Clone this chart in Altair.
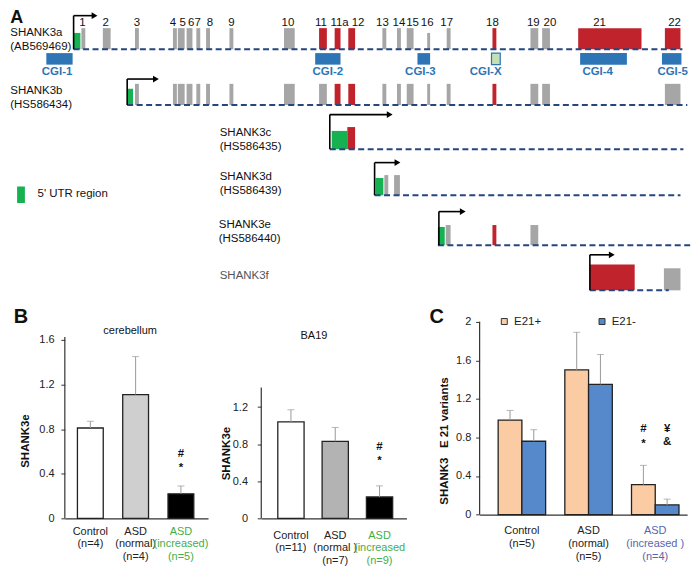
import altair as alt
import pandas as pd

FONT = "Liberation Sans"
GREEN = "#16b150"
GRAY = "#a6a6a6"
RED = "#c0232c"
DASH = "#25467f"
CGI_BLUE = "#2e75b6"
CGI_X_FILL = "#c5e0b4"
LBL_GREEN = "#3fae49"
LBL_BLUE = "#5566b0"
PEACH = "#fbcca4"
BLUE = "#5689cc"

# ---------------- Panel A : transcript structure (schematic units) ----------------
track_labels = ["SHANK3a\n(AB569469)", "SHANK3b\n(HS586434)", "SHANK3c\n(HS586435)",
                "SHANK3d\n(HS586439)", "SHANK3e\n(HS586440)", "SHANK3f"]
track_label_x = [2, 2, 217, 217, 216, 217]
track_label_y = [16, 76, 120, 166, 216, 269]
track_muted = [False, False, False, False, False, True]
track_baseline = [39, 97, 143, 191, 243, 290]
track_start = [67, 122, 330, 376, 441, 597]
track_end = [692, 697, 693, 690, 700, 678]
tss_x = [67, 122, 330, 376, 442, 597]
tss_top = [4, 70, 107, 157, 208, 253]
tss_tip = [92, 155, 395, 403, 470, 623]

exons_a_x0 = [67, 75, 97, 130, 169, 174, 183, 193, 203, 227, 283, 319, 335, 349, 384, 399, 409, 430, 450, 497, 536, 548, 585, 674]
exons_a_x1 = [74, 79, 105, 134, 173, 181, 189, 197, 207, 231, 294, 327, 341, 356, 388, 403, 416, 433, 454, 501, 544, 556, 650, 690]
exons_a_top = [22, 17, 17, 17, 17, 17, 17, 17, 17, 17, 17, 17, 17, 17, 17, 17, 17, 22, 17, 17, 17, 17, 17, 17]
exons_a_kind = ["utr"] + ["coding"] * 10 + ["alt"] * 3 + ["coding"] * 5 + ["alt"] + ["coding"] * 2 + ["alt"] * 2

exons_b_x0 = [122, 130, 169, 174, 183, 193, 203, 227, 283, 319, 335, 349, 384, 399, 409, 430, 450, 497, 536, 548, 674]
exons_b_x1 = [128, 134, 173, 181, 189, 197, 207, 231, 294, 327, 341, 356, 388, 403, 416, 433, 454, 501, 544, 556, 690]
exons_b_top = [80] + [75] * 20
exons_b_kind = ["utr"] + ["coding"] * 9 + ["alt"] * 2 + ["coding"] * 5 + ["alt"] + ["coding"] * 3

exons_c_x0, exons_c_x1, exons_c_top, exons_c_kind = [332, 348], [348, 356], [124, 120], ["utr", "alt"]
exons_d_x0, exons_d_x1, exons_d_top, exons_d_kind = [377, 386, 396], [385, 390, 402], [173, 170, 170], ["utr", "coding", "coding"]
exons_e_x0, exons_e_x1 = [441, 449, 497, 536], [448, 454, 501, 544]
exons_e_top, exons_e_kind = [224, 222, 222, 222], ["utr", "coding", "alt", "coding"]
exons_f_x0, exons_f_x1, exons_f_top, exons_f_kind = [597, 673], [643, 690], [263, 267], ["alt", "coding"]

exon_num = ["1", "2", "3", "4", "5", "67", "8", "9", "10", "11", "11a", "12", "13", "14", "15",
            "16", "17", "18", "19", "20", "21", "22"]
exon_num_x = [76, 100, 132, 169, 179, 191, 207, 229, 287, 321, 340, 359, 384, 401, 415,
              430, 450, 497, 539, 556, 607, 684]

cgi_name = ["CGI-1", "CGI-2", "CGI-3", "CGI-X", "CGI-4", "CGI-5"]
cgi_x0 = [39, 315, 420, 496, 587, 671]
cgi_x1 = [66, 341, 433, 505, 635, 691]
cgi_label_x = [50, 328, 423, 490, 605, 682]

rows = []
for ti, (x0s, x1s, tops, kinds) in enumerate([
        (exons_a_x0, exons_a_x1, exons_a_top, exons_a_kind),
        (exons_b_x0, exons_b_x1, exons_b_top, exons_b_kind),
        (exons_c_x0, exons_c_x1, exons_c_top, exons_c_kind),
        (exons_d_x0, exons_d_x1, exons_d_top, exons_d_kind),
        (exons_e_x0, exons_e_x1, exons_e_top, exons_e_kind),
        (exons_f_x0, exons_f_x1, exons_f_top, exons_f_kind)]):
    for a, b, t, k in zip(x0s, x1s, tops, kinds):
        rows.append({"x0": a, "x1": b, "y0": t, "y1": track_baseline[ti], "kind": k})
exon_df = pd.DataFrame(rows)

tracks_df = pd.DataFrame({"label": track_labels, "lx": track_label_x, "ly": track_label_y,
                          "muted": track_muted, "base": track_baseline, "x0": track_start,
                          "x1": track_end, "tx": tss_x, "top": tss_top, "tip": tss_tip})
num_df = pd.DataFrame({"n": exon_num, "x": exon_num_x})
cgi_df = pd.DataFrame({"name": cgi_name, "x0": cgi_x0, "x1": cgi_x1, "lx": cgi_label_x})

# plot area of panel A starts at schematic x=58 (same left edge as panel B's axis);
# everything left of it is drawn in the left margin
xA = alt.Scale(domain=[58, 700], nice=False, zero=False)
yA = alt.Scale(domain=[0, 300], nice=False, zero=False, reverse=True)


def XA(f):
    return alt.X(f, type="quantitative", scale=xA, axis=None)


def YA(f):
    return alt.Y(f, type="quantitative", scale=yA, axis=None)


exons = alt.Chart(exon_df).mark_rect().encode(
    x=XA("x0"), x2="x1:Q", y=YA("y0"), y2="y1:Q",
    color=alt.Color("kind:N", scale=alt.Scale(domain=["utr", "coding", "alt"], range=[GREEN, GRAY, RED]),
                    legend=None))
baselines = alt.Chart(tracks_df).mark_rule(strokeDash=[6, 3.5], strokeWidth=2, color=DASH).encode(
    x=XA("x0"), x2="x1:Q", y=YA("base"))
tss_v = alt.Chart(tracks_df).mark_rule(color="black", strokeWidth=1.6).encode(
    x=XA("tx"), y=YA("base"), y2="top:Q")
tss_h = alt.Chart(tracks_df).transform_calculate(tl="datum.tip - 5").mark_rule(
    color="black", strokeWidth=1.6).encode(x=XA("tx"), x2="tl:Q", y=YA("top"))
tss_head = alt.Chart(tracks_df).transform_calculate(hx="datum.tip - 3.5").mark_point(
    shape="triangle-right", filled=True, size=45, color="black", opacity=1).encode(x=XA("hx"), y=YA("top"))
labels_a = alt.Chart(tracks_df).mark_text(align="left", baseline="top", lineBreak="\n", fontSize=11.5,
                                          lineHeight=14).encode(
    x=XA("lx"), y=YA("ly"), text="label:N",
    color=alt.condition("datum.muted", alt.value("#555555"), alt.value("#111111")))
nums = alt.Chart(num_df).transform_calculate(y="12").mark_text(fontSize=11.5, baseline="middle",
                                                                color="#111").encode(
    x=XA("x"), y=YA("y"), text="n:N")
cgi_boxes = alt.Chart(cgi_df).transform_filter("datum.name != 'CGI-X'").transform_calculate(
    y0="43", y1="55").mark_rect(color=CGI_BLUE).encode(x=XA("x0"), x2="x1:Q", y=YA("y0"), y2="y1:Q")
cgi_xbox = alt.Chart(cgi_df).transform_filter("datum.name == 'CGI-X'").transform_calculate(
    y0="43", y1="55").mark_rect(fill=CGI_X_FILL, stroke=CGI_BLUE, strokeWidth=1.2).encode(
    x=XA("x0"), x2="x1:Q", y=YA("y0"), y2="y1:Q")
cgi_text = alt.Chart(cgi_df).transform_calculate(y="63").mark_text(
    fontSize=11.5, fontWeight="bold", color=CGI_BLUE, baseline="middle").encode(
    x=XA("lx"), y=YA("y"), text="name:N")
utr_df = pd.DataFrame({"x0": [9], "x1": [17], "y0": [182], "y1": [199], "lx": [30], "ly": [190],
                       "t": ["5' UTR region"]})
utr_box = alt.Chart(utr_df).mark_rect(color=GREEN).encode(x=XA("x0"), x2="x1:Q", y=YA("y0"), y2="y1:Q")
utr_text = alt.Chart(utr_df).mark_text(align="left", baseline="middle", fontSize=11.5, color="#111").encode(
    x=XA("lx"), y=YA("ly"), text="t:N")
letter_a = alt.Chart(pd.DataFrame({"t": ["A"], "x": [2], "y": [6.5]})).mark_text(
    align="left", baseline="middle", fontSize=18, fontWeight="bold", color="#111").encode(
    x=XA("x"), y=YA("y"), text="t:N")

panel_a = alt.layer(exons, baselines, tss_v, tss_h, tss_head, labels_a, nums, cgi_boxes, cgi_xbox,
                    cgi_text, utr_box, utr_text, letter_a).properties(width=627.2, height=289)

# ---------------- Panel B / C data ----------------
b1_groups = ["Control|(n=4)", "ASD|(normal)|(n=4)", "ASD|(increased)|(n=5)"]
b1_mean = [0.81, 1.11, 0.22]
b1_err = [0.06, 0.34, 0.07]
b1_fill = ["#ffffff", "#cfcfcf", "#000000"]
b1_ticks = [0, 0.4, 0.8, 1.2, 1.6]
b1_marks, b1_mark_y = ["#", "*"], [0.58, 0.455]

b2_groups = ["Control|(n=11)", "ASD|(normal )|(n=7)", "ASD|(increased|(n=9)"]
b2_mean = [1.04, 0.83, 0.23]
b2_err = [0.13, 0.15, 0.12]
b2_fill = ["#ffffff", "#b3b3b3", "#000000"]
b2_ticks = [0, 0.4, 0.8, 1.2]
b2_marks, b2_mark_y = ["#", "*"], [0.77, 0.62]

c_groups = ["Control|(n=5)", "ASD|(normal)|(n=5)", "ASD|(increased )|(n=4)"]
c_series = ["E21+", "E21-"]
c_plus_mean = [0.98, 1.50, 0.31]
c_plus_err = [0.10, 0.39, 0.20]
c_minus_mean = [0.76, 1.35, 0.10]
c_minus_err = [0.12, 0.31, 0.06]
c_ticks = [0, 0.4, 0.8, 1.2, 1.6, 2.0]
c_marks = ["#", "*", "\u00a5", "&"]
c_mark_series = ["E21+", "E21+", "E21-", "E21-"]
c_mark_y = [0.885, 0.735, 0.885, 0.748]

ERR = "#9a9a9a"


def x_axis(pad, line_h, accent):
    return alt.Axis(title=None, labelExpr="split(datum.label, '|')", labelAngle=0, ticks=False, tickSize=0,
                    domainColor="#333", domainWidth=1.2, labelFont=FONT, labelFontSize=11,
                    labelLineHeight=line_h, labelPadding=pad, labelOverlap=False, labelLimit=300,
                    labelBound=False, labelFlush=False,
                    labelColor={"condition": {"test": "indexof(datum.value, 'increased') >= 0",
                                              "value": accent}, "value": "#222"})


def y_axis(title, values, pad, tx, ty, min_extent):
    return alt.Axis(title=title, values=values, tickCount=len(values), format="~g", domain=False,
                    grid=False, tickSize=4, tickColor="#333", labelFont=FONT, labelFontSize=11,
                    labelColor="#222", labelPadding=pad, labelOverlap=False, labelBound=False,
                    labelFlush=False, titleFont=FONT, titleFontSize=11.5, titleFontWeight="bold",
                    titleColor="#111", titleX=tx, titleY=ty, minExtent=min_extent)


def letter(t, x, opacity=1.0):
    return alt.Chart(pd.DataFrame({"t": [t]})).mark_text(
        fontSize=20, fontWeight="bold", align="center", baseline="middle", color="#111",
        opacity=opacity).encode(x=alt.value(x), y=alt.value(0), text="t:N")


def b_panel(groups, means, errs, fills, ticks, ymax, axis_top, width, height, padi, pado, align,
            ylab_pad, tx, ty, min_extent, xlab_pad, line_h, marks, mark_y, title, title_x, title_y, let):
    df = pd.DataFrame({"group": groups, "mean": means, "err": errs})
    base = alt.Chart(df).transform_calculate(top="datum.mean + datum.err")
    ysc = alt.Scale(domain=[0, ymax], nice=False, zero=True)
    xs = alt.X("group:N", sort=groups)
    bars = base.mark_bar(stroke="#222", strokeWidth=1.3).encode(
        x=alt.X("group:N", sort=groups,
                scale=alt.Scale(paddingInner=padi, paddingOuter=pado, align=align),
                axis=x_axis(xlab_pad, line_h, LBL_GREEN)),
        y=alt.Y("mean:Q", scale=ysc, axis=y_axis("SHANK3e", ticks, ylab_pad, tx, ty, min_extent)),
        color=alt.Color("group:N", scale=alt.Scale(domain=groups, range=fills), legend=None))
    err = base.mark_rule(color=ERR, strokeWidth=1).encode(x=xs, y="mean:Q", y2="top:Q")
    cap = base.mark_tick(color=ERR, thickness=1, size=7).encode(x=xs, y="top:Q")
    yline = alt.Chart(pd.DataFrame({"y0": [0], "y1": [axis_top]})).mark_rule(
        color="#333", strokeWidth=1.2).encode(x=alt.value(0), y="y0:Q", y2="y1:Q")
    mk = alt.Chart(pd.DataFrame({"group": [groups[2]] * len(marks), "y": mark_y, "t": marks})).mark_text(
        fontSize=11.5, fontWeight="bold", color="#111", baseline="middle").encode(
        x=xs, y="y:Q", text="t:N")
    ttl = alt.Chart(pd.DataFrame({"t": [title], "y": [title_y]})).mark_text(
        fontSize=11, color="#111", baseline="middle").encode(
        x=alt.value(title_x), y="y:Q", text="t:N")
    return alt.layer(bars, err, cap, yline, mk, ttl, let).properties(width=width, height=height)


b1 = b_panel(b1_groups, b1_mean, b1_err, b1_fill, b1_ticks, 1.806, 1.626, 143.6, 202, 0.43, 0.296, 0.47,
             6.8, -34.5, 124, 56.7, 7, 12.5, b1_marks, b1_mark_y, "cerebellum", 65.5, 1.677,
             letter("B", -44))
b2 = b_panel(b2_groups, b2_mean, b2_err, b2_fill, b2_ticks, 2.172, 1.41, 145.6, 202, 0.407, 0.342, 0.546,
             9.8, -29.5, 136.6, 52.7, 11, 12.5, b2_marks, b2_mark_y, "BA19", 52.8, 1.965,
             letter("B", 0, opacity=0))

# Panel C
c_df = pd.DataFrame({"group": c_groups * 2, "series": ["E21+"] * 3 + ["E21-"] * 3,
                     "mean": c_plus_mean + c_minus_mean, "err": c_plus_err + c_minus_err})
c_base = alt.Chart(c_df).transform_calculate(top="datum.mean + datum.err")
c_ysc = alt.Scale(domain=[0, 2.05], nice=False, zero=True)
c_xs = alt.X("group:N", sort=c_groups)
c_xo = alt.XOffset("series:N", sort=c_series, scale=alt.Scale(paddingInner=0, paddingOuter=0))
c_bars = c_base.mark_bar(stroke="#222", strokeWidth=1.3).encode(
    x=alt.X("group:N", sort=c_groups, scale=alt.Scale(paddingInner=0.288, paddingOuter=0.2, align=0.695),
            axis=x_axis(10.5, 12.8, LBL_BLUE)),
    xOffset=c_xo,
    y=alt.Y("mean:Q", scale=c_ysc,
            axis=y_axis("SHANK3\u00a0\u00a0\u00a0E 21 variants", c_ticks, 4.8, -30.6, 124, 72.3)),
    color=alt.Color("series:N", sort=c_series, scale=alt.Scale(domain=c_series, range=[PEACH, BLUE]),
                    legend=alt.Legend(title=None, orient="none", legendX=19, legendY=-1.5,
                                      direction="horizontal", symbolType="square", symbolSize=36,
                                      symbolStrokeColor="#333", symbolStrokeWidth=1, labelFont=FONT,
                                      labelFontSize=11.5, labelColor="#222", labelOffset=4,
                                      columnPadding=55, padding=0)))
c_err = c_base.mark_rule(color=ERR, strokeWidth=1).encode(x=c_xs, xOffset=c_xo, y="mean:Q", y2="top:Q")
c_cap = c_base.mark_tick(color=ERR, thickness=1, size=7).encode(x=c_xs, xOffset=c_xo, y="top:Q")
c_yline = alt.Chart(pd.DataFrame({"y0": [0], "y1": [2.0]})).mark_rule(color="#333", strokeWidth=1.2).encode(
    x=alt.value(0), y="y0:Q", y2="y1:Q")
c_mk = alt.Chart(pd.DataFrame({"group": [c_groups[2]] * 4, "series": c_mark_series, "y": c_mark_y,
                               "t": c_marks})).mark_text(
    fontSize=11.5, fontWeight="bold", color="#111", baseline="middle").encode(
    x=c_xs, xOffset=c_xo, y="y:Q", text="t:N")
panel_c = alt.layer(c_bars, c_err, c_cap, c_yline, c_mk, letter("C", -43)).properties(
    width=208.1, height=198.2)

row = alt.hconcat(b1, b2, panel_c, spacing=0).resolve_scale(color="independent")

chart = alt.vconcat(panel_a, row, spacing=7).resolve_scale(color="independent").properties(
    padding=0).configure(font=FONT, view=alt.ViewConfig(stroke=None))

chart.save("out.html", embed_options={"renderer": "svg", "actions": False})
